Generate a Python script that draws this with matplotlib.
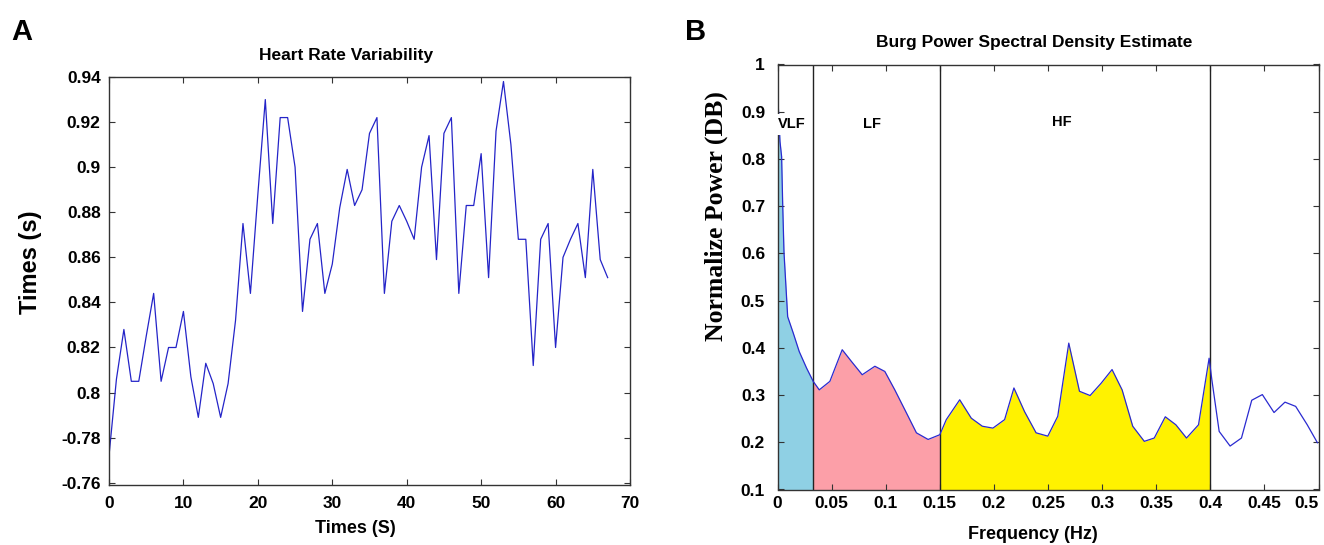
import numpy as np
import matplotlib
matplotlib.use("Agg")
import matplotlib.pyplot as plt

plt.rcParams['font.family'] = ['Liberation Sans', 'DejaVu Sans']
plt.rcParams['font.weight'] = 'bold'

# ---- panel A: heart rate variability (RR series) ----
hrv_time = list(range(68))
hrv_rr = [0.772, 0.806, 0.828, 0.805, 0.805, 0.825, 0.844, 0.805, 0.820, 0.820,
          0.836, 0.807, 0.789, 0.813, 0.804, 0.789, 0.804, 0.832, 0.875, 0.844,
          0.888, 0.930, 0.875, 0.922, 0.922, 0.900, 0.836, 0.868, 0.875, 0.844,
          0.857, 0.882, 0.899, 0.883, 0.890, 0.915, 0.922, 0.844, 0.876, 0.883,
          0.876, 0.868, 0.900, 0.914, 0.859, 0.915, 0.922, 0.844, 0.883, 0.883,
          0.906, 0.851, 0.916, 0.938, 0.910, 0.868, 0.868, 0.812, 0.868, 0.875,
          0.820, 0.860, 0.868, 0.875, 0.851, 0.899, 0.859, 0.851]
hrv_yticks = [0.76, 0.78, 0.80, 0.82, 0.84, 0.86, 0.88, 0.90, 0.92, 0.94]
hrv_ylabels = ['-0.76', '-0.78', '0.8', '0.82', '0.84', '0.86', '0.88', '0.9', '0.92', '0.94']
hrv_xticks = [0, 10, 20, 30, 40, 50, 60, 70]

# ---- panel B: Burg PSD ----
freq = [0.0, 0.0023, 0.0038, 0.0048, 0.006, 0.0078, 0.0094, 0.0146, 0.0201, 0.0269,
        0.033, 0.0386, 0.0484, 0.0598, 0.0684, 0.0783, 0.09, 0.0992, 0.1084, 0.1192,
        0.1284, 0.1392, 0.15, 0.156, 0.1684, 0.1791, 0.1893, 0.1991, 0.2099, 0.2185,
        0.2283, 0.239, 0.2498, 0.259, 0.2692, 0.2791, 0.2889, 0.2991, 0.3092, 0.3185,
        0.3283, 0.339, 0.3482, 0.3584, 0.3682, 0.378, 0.3891, 0.3989, 0.4014, 0.4082,
        0.4183, 0.4288, 0.4383, 0.4481, 0.4589, 0.469, 0.4789, 0.4896, 0.499]
power = [0.945, 0.837, 0.805, 0.703, 0.602, 0.53, 0.466, 0.431, 0.392, 0.357,
         0.329, 0.311, 0.329, 0.396, 0.371, 0.343, 0.361, 0.35, 0.311, 0.262,
         0.22, 0.206, 0.216, 0.248, 0.29, 0.251, 0.234, 0.23, 0.248, 0.315,
         0.265, 0.22, 0.213, 0.255, 0.41, 0.308, 0.299, 0.325, 0.354, 0.311,
         0.234, 0.202, 0.209, 0.254, 0.237, 0.209, 0.237, 0.378, 0.333, 0.223,
         0.192, 0.209, 0.289, 0.301, 0.263, 0.285, 0.276, 0.237, 0.199]
band_names = ['VLF', 'LF', 'HF']
band_edges = [0.0, 0.033, 0.15, 0.4]
band_colors = ['#8fd0e4', '#fc9fa8', '#fff200']
band_label_pos = [(0.0135, 0.874), (0.087, 0.874), (0.263, 0.879)]
psd_xticks = [0, 0.05, 0.1, 0.15, 0.2, 0.25, 0.3, 0.35, 0.4, 0.45, 0.5]
psd_xlabels = ['0', '0.05', '0.1', '0.15', '0.2', '0.25', '0.3', '0.35', '0.4', '0.45', '0.5']
psd_yticks = [0.1, 0.2, 0.3, 0.4, 0.5, 0.6, 0.7, 0.8, 0.9, 1.0]
psd_ylabels = ['0.1', '0.2', '0.3', '0.4', '0.5', '0.6', '0.7', '0.8', '0.9', '1']

W, H = 1324, 545
fig = plt.figure(figsize=(W / 100, H / 100), dpi=100)


def px_axes(left, top, right, bottom):
    return fig.add_axes([left / W, 1 - bottom / H, (right - left) / W, (bottom - top) / H])


def style_box(ax):
    for s in ax.spines.values():
        s.set_color('#333333')
        s.set_linewidth(1.0)
    ax.tick_params(direction='in', top=True, right=True, length=4, width=0.8,
                   labelsize=12.5, colors='#333333', labelcolor='black')


# panel A
axA = px_axes(109, 77, 630, 485)
axA.plot(hrv_time, hrv_rr, color='#2424c8', lw=0.9)
axA.set_xlim(0, 70)
axA.set_ylim(0.759, 0.94)
axA.set_xticks(hrv_xticks)
axA.set_yticks(hrv_yticks)
axA.set_yticklabels(hrv_ylabels)
style_box(axA)
axA.tick_params(axis='x', pad=8)
axA.tick_params(axis='y', pad=6)
axA.set_title('Heart Rate Variability', fontsize=12.5, fontweight='bold',
              x=0.455, y=1.053, va='center', pad=0)
axA.set_xlabel('Times (S)', fontsize=13, fontweight='bold')
axA.xaxis.set_label_coords(0.472, -0.085)
axA.set_ylabel('Times (s)', fontsize=17, fontweight='bold')
axA.yaxis.set_label_coords(-0.128, 0.546)

# panel B
axB = px_axes(777.5, 64.5, 1318.5, 489.5)
f = np.array(freq)
p = np.array(power)
ybot = 0.1
for lo, hi, col in zip(band_edges[:-1], band_edges[1:], band_colors):
    inside = (f > lo) & (f < hi)
    xs = np.concatenate([[lo], f[inside], [hi]])
    ys = np.interp(xs, f, p)
    axB.fill_between(xs, ybot, ys, color=col, lw=0)
for edge in band_edges[1:]:
    axB.axvline(edge, color='#222222', lw=1.0)
axB.plot(freq, power, color='#2a2ad0', lw=0.9)
for name, pos in zip(band_names, band_label_pos):
    box = dict(facecolor='white', edgecolor='none', pad=2.5) if name == 'VLF' else None
    axB.text(pos[0], pos[1], name, ha='center', va='center', fontsize=10.5,
             fontweight='bold', bbox=box, zorder=5)
axB.set_xlim(0, 0.5)
axB.set_ylim(ybot, 1.0)
axB.set_xticks(psd_xticks)
axB.set_xticklabels(psd_xlabels)
axB.set_yticks(psd_yticks)
axB.set_yticklabels(psd_ylabels)
style_box(axB)
axB.tick_params(axis='x', pad=5)
axB.tick_params(axis='y', pad=9)
axB.get_xticklabels()[-1].set_horizontalalignment('right')
axB.set_title('Burg Power Spectral Density Estimate', fontsize=12.5, fontweight='bold',
              x=0.474, y=1.051, va='center', pad=0)
axB.set_xlabel('Frequency (Hz)', fontsize=13, fontweight='bold')
axB.xaxis.set_label_coords(0.4725, -0.086)
axB.set_ylabel('Normalize Power (DB)', fontsize=18.5, fontweight='bold',
               family=['Liberation Serif', 'DejaVu Serif'])
axB.yaxis.set_label_coords(-0.0915, 0.643)

fig.text(22 / W, 1 - 31.5 / H, 'A', fontsize=21, fontweight='bold', ha='center', va='center')
fig.text(696 / W, 1 - 31.5 / H, 'B', fontsize=21, fontweight='bold', ha='center', va='center')

fig.savefig('out.png', dpi=100)
